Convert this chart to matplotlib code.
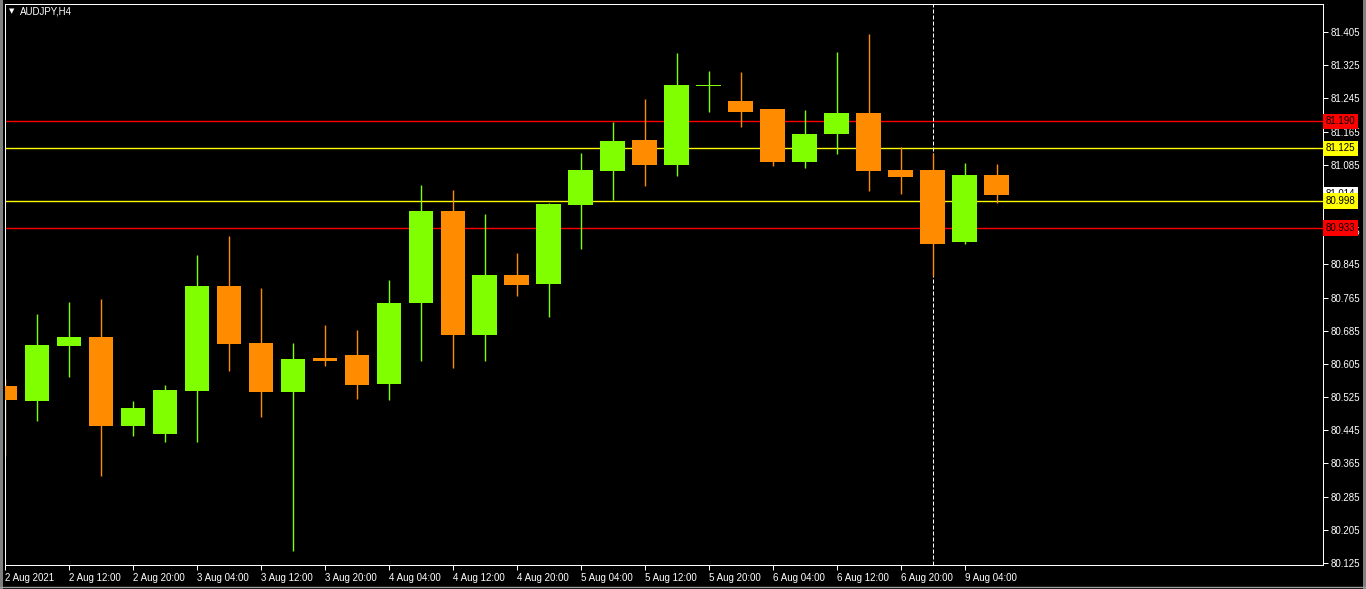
import numpy as np
import matplotlib
matplotlib.use("Agg")
import matplotlib.pyplot as plt
from matplotlib.lines import Line2D
from matplotlib.patches import Rectangle

# AUDJPY H4 candles, 2 Aug 2021 04:00 .. 9 Aug 2021 08:00
opens  = [80.552, 80.515, 80.648, 80.670, 80.455, 80.436, 80.540, 80.793, 80.655, 80.537,
          80.619, 80.626, 80.556, 80.752, 80.973, 80.675, 80.819, 80.798, 80.988, 81.070,
          81.145, 81.084, 81.276, 81.239, 81.219, 81.092, 81.159, 81.210, 81.072, 81.072,
          80.900, 81.060]
highs  = [80.568, 80.725, 80.754, 80.761, 80.515, 80.554, 80.867, 80.913, 80.788, 80.655,
          80.699, 80.687, 80.807, 81.036, 81.024, 80.966, 80.872, 80.992, 81.113, 81.188,
          81.243, 81.354, 81.311, 81.309, 81.219, 81.217, 81.357, 81.400, 81.128, 81.113,
          81.089, 81.087]
lows   = [80.383, 80.467, 80.573, 80.335, 80.431, 80.417, 80.417, 80.588, 80.477, 80.154,
          80.600, 80.520, 80.518, 80.612, 80.595, 80.612, 80.769, 80.718, 80.882, 81.000,
          81.034, 81.058, 81.212, 81.176, 81.082, 81.077, 81.111, 81.022, 81.015, 80.817,
          80.894, 80.993]
closes = [80.518, 80.650, 80.670, 80.455, 80.499, 80.542, 80.793, 80.653, 80.537, 80.617,
          80.612, 80.554, 80.752, 80.973, 80.675, 80.819, 80.795, 80.990, 81.072, 81.142,
          81.084, 81.277, 81.277, 81.212, 81.092, 81.159, 81.210, 81.070, 81.055, 80.894,
          81.060, 81.012]

time_labels = ["2 Aug 2021", "2 Aug 12:00", "2 Aug 20:00", "3 Aug 04:00", "3 Aug 12:00",
               "3 Aug 20:00", "4 Aug 04:00", "4 Aug 12:00", "4 Aug 20:00", "5 Aug 04:00",
               "5 Aug 12:00", "5 Aug 20:00", "6 Aug 04:00", "6 Aug 12:00", "6 Aug 20:00",
               "9 Aug 04:00"]
time_ticks = list(range(0, 32, 2))

price_ticks = [80.125, 80.205, 80.285, 80.365, 80.445, 80.525, 80.605, 80.685, 80.765,
               80.845, 80.925, 81.005, 81.085, 81.165, 81.245, 81.325, 81.405]
hidden_tick = 81.005   # sits under the bid / level tags

red_levels = [81.190, 80.933]
yellow_levels = [81.125, 80.998]
bid = 81.014
week_sep = 29

bull = "#7FFF00"
bear = "#FF8C00"
px = 0.72   # one pixel in points at 100 dpi

plt.rcParams['font.family'] = ['Liberation Sans', 'DejaVu Sans']

fig = plt.figure(figsize=(13.66, 5.89), dpi=100, facecolor="black")
ax = fig.add_axes([4.5/1366, 24/589, (1323-4.5)/1366, (565-3.5)/589])
ax.set_facecolor("black")

x = np.arange(len(opens))
o = np.array(opens); c = np.array(closes)
colors = [bull if cc >= oo else bear for oo, cc in zip(o, c)]

ax.vlines(x, lows, highs, colors=colors, linewidth=1, zorder=2, snap=True)
body_lo = np.minimum(o, c)
body_h = np.maximum(np.abs(c - o), 0.0025)
ax.bar(x, body_h, bottom=body_lo, width=0.78, color=colors, linewidth=0, zorder=3)

for lv in red_levels:
    ax.axhline(lv, color="#FF0000", linewidth=1, zorder=1, snap=True)
for lv in yellow_levels:
    ax.axhline(lv, color="#FFFF00", linewidth=1, zorder=1, snap=True)
ax.axvline(week_sep, color="white", linewidth=px, linestyle=(0, (4, 2)), zorder=1,
           snap=True)

ax.set_xlim(-0.016, 41.19)
ax.set_ylim(80.120, 81.474)

for sp in ax.spines.values():
    sp.set_color("white")
    sp.set_linewidth(px)

ax.set_xticks(time_ticks)
ax.set_xticklabels(time_labels, ha="left")
ax.yaxis.tick_right()
ax.set_yticks(price_ticks)
ax.set_yticklabels(["" if p == hidden_tick else "%.3f" % p for p in price_ticks])
ax.tick_params(axis="both", colors="white", labelsize=7, length=3.5, width=px, direction="out")
ax.tick_params(axis="x", pad=2)
ax.tick_params(axis="y", pad=2)

# price tags on the right scale
def price_tag(p, fc):
    ax.text(1.0022, p, "%.3f" % p, transform=ax.get_yaxis_transform(), ha="left",
            va="center", fontsize=7, color="black", zorder=5,
            bbox=dict(boxstyle="square,pad=0.28", fc=fc, ec="none"))

price_tag(bid, "white")
price_tag(red_levels[0], "#FF0000")
price_tag(red_levels[1], "#FF0000")
price_tag(yellow_levels[0], "#FFFF00")
price_tag(yellow_levels[1], "#FFFF00")

# symbol caption
fig.text(9/1366, 1 - 11/589, "\u25bc", color="white", fontsize=5, va="center",
         family="DejaVu Sans")
fig.text(20/1366, 1 - 11/589, "AUDJPY,H4", color="white", fontsize=7, va="center")

# window edges
fig.add_artist(Rectangle((0, 0), 3/1366, 1, transform=fig.transFigure, fc="#808080", ec="none"))
fig.add_artist(Rectangle((1363/1366, 0), 3/1366, 1, transform=fig.transFigure, fc="#808080", ec="none"))
fig.add_artist(Line2D([0, 1], [2.5/589, 2.5/589], transform=fig.transFigure, color="#A0A0A0", lw=1))

fig.savefig("out.png", dpi=100, facecolor="black")
